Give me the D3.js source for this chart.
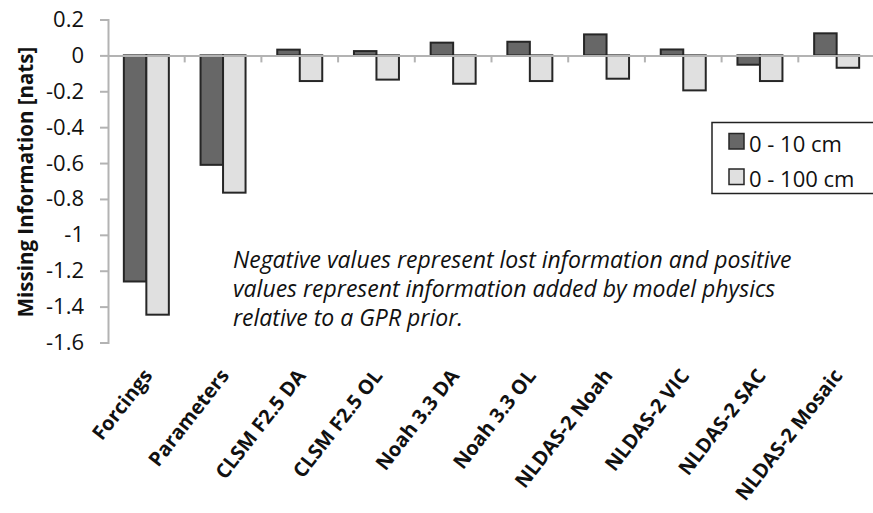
<!DOCTYPE html>
<html>
<head>
<meta charset="utf-8">
<script src="https://cdn.jsdelivr.net/npm/d3@7"></script>
<style>
  body { margin: 0; background: #fff; }
  svg { display: block; }
</style>
</head>
<body>
<div id="chart"></div>
<script>
// chart values
const categories = ["Forcings", "Parameters", "CLSM F2.5 DA", "CLSM F2.5 OL", "Noah 3.3 DA",
                    "Noah 3.3 OL", "NLDAS-2 Noah", "NLDAS-2 VIC", "NLDAS-2 SAC", "NLDAS-2 Mosaic"];
const seriesNames = ["0 - 10 cm", "0 - 100 cm"];
const shallow = [-1.26, -0.61, 0.032, 0.024, 0.071, 0.076, 0.117, 0.033, -0.052, 0.123];
const deep = [-1.445, -0.765, -0.143, -0.135, -0.158, -0.143, -0.13, -0.195, -0.143, -0.069];
const yTicks = [0.2, 0, -0.2, -0.4, -0.6, -0.8, -1, -1.2, -1.4, -1.6];
const yLabel = "Missing Information [nats]";
const noteLines = ["Negative values represent lost information and positive",
                   "values represent information added by model physics",
                   "relative to a GPR prior."];

const width = 873, height = 513;
const fills = ["#676767", "#e0e0e0"];
const axisColor = "#b3b3b3";

const svg = d3.select("#chart")
  .append("svg")
    .attr("width", width)
    .attr("height", height)
    .style("font-family", "'Open Sans', sans-serif");

svg.append("rect").attr("width", width).attr("height", height).attr("fill", "#fff");

// scales
const xScale = d3.scaleBand()
    .domain(categories)
    .range([108, 875])
    .padding(0);

const yScale = d3.scaleLinear()
    .domain([-1.6, 0.2])
    .range([342.5, 19.5]);

const inner = d3.scaleBand()
    .domain([0, 1])
    .range([0, 45]);
const groupOffset = (xScale.bandwidth() - 45) / 2;

// y axis (plain hyphen for negatives, like the original)
const yAxis = svg.append("g")
    .attr("transform", "translate(108,0)")
    .call(d3.axisLeft(yScale).tickValues(yTicks).tickSize(8).tickPadding(16)
      .tickFormat(d => String(d)));
yAxis.select(".domain").attr("stroke", axisColor).attr("stroke-width", 2);
yAxis.selectAll(".tick line").attr("stroke", axisColor).attr("stroke-width", 2);
yAxis.selectAll(".tick text")
    .attr("fill", "#111")
    .style("font-size", "22px")
    .style("font-family", "'Open Sans', sans-serif");

// bars
const rows = categories.map((c, i) => ({cat: c, vals: [shallow[i], deep[i]]}));
const groups = svg.selectAll(".grp")
  .data(rows)
  .enter()
  .append("g")
    .attr("class", "grp")
    .attr("transform", d => `translate(${xScale(d.cat) + groupOffset},0)`);

groups.selectAll("rect")
  .data(d => d.vals.map((v, k) => ({v: v, k: k})))
  .enter()
  .append("rect")
    .attr("x", d => inner(d.k))
    .attr("y", d => yScale(Math.max(0, d.v)))
    .attr("width", inner.bandwidth())
    .attr("height", d => Math.abs(yScale(d.v) - yScale(0)))
    .attr("fill", d => fills[d.k])
    .attr("stroke", "#262626")
    .attr("stroke-width", 2);

// x axis along zero, ticks hanging below
const xAxis = svg.append("g")
    .attr("transform", `translate(0,${yScale(0)})`)
    .call(d3.axisBottom(xScale).tickSize(0).tickFormat(""));
xAxis.select(".domain").attr("stroke", axisColor).attr("stroke-width", 2);

svg.append("g")
  .selectAll("line")
  .data(categories)
  .enter()
  .append("line")
    .attr("x1", d => xScale(d) + xScale.bandwidth())
    .attr("x2", d => xScale(d) + xScale.bandwidth())
    .attr("y1", yScale(0))
    .attr("y2", yScale(0) + 7)
    .attr("stroke", axisColor)
    .attr("stroke-width", 2);

// category labels
svg.append("g")
  .selectAll("text")
  .data(categories)
  .enter()
  .append("text")
    .attr("transform", d => `translate(${xScale(d) + xScale.bandwidth() / 2 + 7},376) rotate(-52)`)
    .attr("text-anchor", "end")
    .style("font-size", "20px")
    .style("font-weight", "bold")
    .attr("fill", "#111")
    .text(d => d);

// y axis title
svg.append("text")
    .attr("transform", "translate(33,182) rotate(-90)")
    .attr("text-anchor", "middle")
    .style("font-size", "20.5px")
    .style("font-weight", "bold")
    .attr("fill", "#111")
    .text(yLabel);

// note
svg.append("g")
  .selectAll("text")
  .data(noteLines)
  .enter()
  .append("text")
    .attr("x", 233)
    .attr("y", (d, i) => 268 + i * 29)
    .style("font-size", "23px")
    .style("font-style", "italic")
    .attr("fill", "#111")
    .text(d => d);

// legend
const legend = svg.append("g").attr("transform", "translate(712,122.5)");
legend.append("rect")
    .attr("width", 165)
    .attr("height", 71)
    .attr("fill", "#fff")
    .attr("stroke", "#222")
    .attr("stroke-width", 1.5);

const items = legend.selectAll(".item")
  .data(seriesNames)
  .enter()
  .append("g")
    .attr("class", "item")
    .attr("transform", (d, i) => `translate(17,${11 + i * 35.5})`);

items.append("rect")
    .attr("width", 15)
    .attr("height", 15.5)
    .attr("fill", (d, i) => fills[i])
    .attr("stroke", "#262626")
    .attr("stroke-width", 1.5);

items.append("text")
    .attr("x", 20)
    .attr("y", 18)
    .style("font-size", "22px")
    .attr("fill", "#111")
    .text(d => d);
</script>
</body>
</html>
